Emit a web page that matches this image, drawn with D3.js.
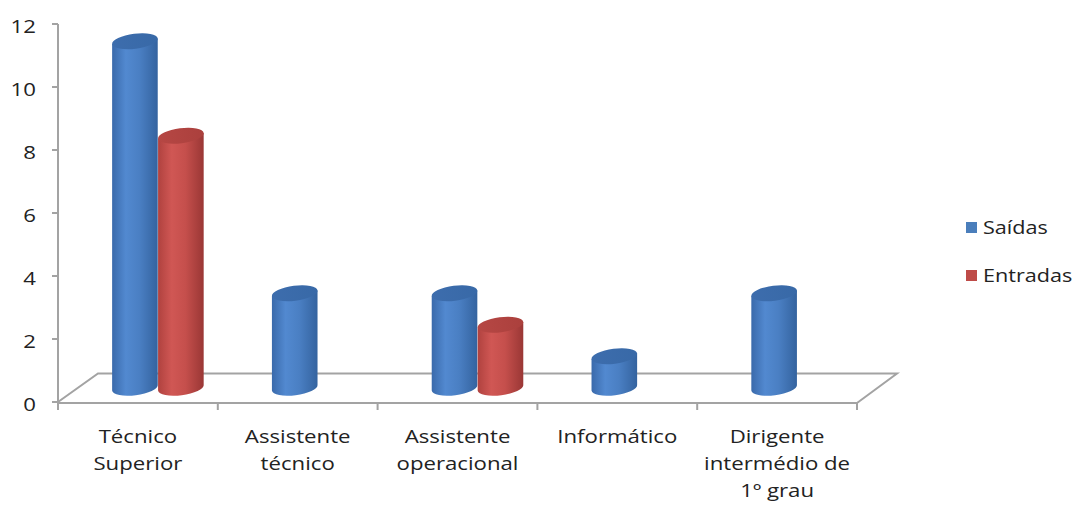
<!DOCTYPE html>
<html>
<head>
<meta charset="utf-8">
<script src="https://cdn.jsdelivr.net/npm/d3@7"></script>
<style>
  html, body { margin: 0; padding: 0; background: #fff; }
  svg { display: block; }
  text { font-family: "Open Sans", "Noto Sans", sans-serif; fill: #222; }
</style>
</head>
<body>
<svg id="chart" width="1077" height="510"></svg>
<script>
const categories = ["Técnico Superior", "Assistente técnico", "Assistente operacional", "Informático", "Dirigente intermédio de 1º grau"];
const categoryLines = [["Técnico", "Superior"], ["Assistente", "técnico"], ["Assistente", "operacional"], ["Informático"], ["Dirigente", "intermédio de", "1º grau"]];
const seriesNames = ["Saídas", "Entradas"];
const saidas = [11, 3, 3, 1, 3];
const entradas = [8, 0, 2, 0, 0];
const yTicks = [0, 2, 4, 6, 8, 10, 12];

const svg = d3.select("#chart");
const x = d3.scaleBand().domain(categories).range([58, 857]);
const y = d3.scaleLinear().domain([0, 12]).range([402, 24]);
const inner = d3.scaleBand().domain(seriesNames).range([0, x.bandwidth()]).paddingInner(0).paddingOuter(0.739);
const floorDx = 40, floorDy = -28.5;
const barDx = floorDx / 2, barDy = floorDy / 2;
const axisColor = "#a3a3a3";
const TSX = 1.2;

// gradients
const defs = svg.append("defs");
const grads = {
  "Saídas": { side: [["0%", "#3a6aab"], ["30%", "#5289d0"], ["60%", "#4a7fc3"], ["100%", "#34639f"]], top: [["0%", "#3d6dad"], ["100%", "#3869a7"]] },
  "Entradas": { side: [["0%", "#b0423f"], ["30%", "#d05754"], ["60%", "#c54f4c"], ["100%", "#9a3735"]], top: [["0%", "#b64744"], ["100%", "#ab403d"]] }
};
seriesNames.forEach((s, i) => {
  ["side", "top"].forEach(k => {
    const g = defs.append("linearGradient").attr("id", `g${i}${k}`).attr("x1", "0%").attr("x2", "100%").attr("y1", "0%").attr("y2", "0%");
    grads[s][k].forEach(([o, c]) => g.append("stop").attr("offset", o).attr("stop-color", c));
  });
});

// floor
const x0 = x.range()[0], x1 = x.range()[1], y0 = y(0);
svg.append("path")
  .attr("d", `M${x0},${y0} L${x0 + floorDx},${y0 + floorDy} L${x1 + floorDx},${y0 + floorDy} L${x1},${y0 + 1}`)
  .attr("fill", "none").attr("stroke", axisColor).attr("stroke-width", 2);

// category axis
svg.append("line").attr("x1", x0).attr("x2", x1).attr("y1", y0 + 1).attr("y2", y0 + 1)
  .attr("stroke", axisColor).attr("stroke-width", 2);
const bounds = categories.map(c => x(c)).concat([x1]);
svg.selectAll(".xtick").data(bounds).join("line")
  .attr("x1", d => d).attr("x2", d => d).attr("y1", y0 + 1).attr("y2", y0 + 8)
  .attr("stroke", axisColor).attr("stroke-width", 2);

// value axis
svg.append("line").attr("x1", x0).attr("x2", x0).attr("y1", y(12)).attr("y2", y0 + 1)
  .attr("stroke", axisColor).attr("stroke-width", 2);
svg.selectAll(".ytick").data(yTicks).join("line")
  .attr("x1", x0 - 6).attr("x2", x0).attr("y1", d => y(d)).attr("y2", d => y(d))
  .attr("stroke", axisColor).attr("stroke-width", 2);
svg.selectAll(".ylab").data(yTicks).join("text")
  .attr("transform", d => `translate(36,${y(d) + 9}) scale(${TSX},1)`)
  .attr("text-anchor", "end").attr("font-size", 18.5)
  .text(d => d);

// bars (cylinders)
const rx = inner.bandwidth() / 2, ry = 7.5, rot = -7;
const th = rot * Math.PI / 180;
const ex = rx * Math.cos(th), ey = rx * Math.sin(th);
const barData = [];
categories.forEach((c, ci) => {
  [saidas, entradas].forEach((arr, si) => {
    if (arr[ci] > 0) barData.push({ c, s: seriesNames[si], si, v: arr[ci] });
  });
});
const bars = svg.selectAll(".bar").data(barData).join("g");
bars.each(function(d) {
  const g = d3.select(this);
  const cx = x(d.c) + inner(d.s) + rx + barDx;
  const yb = y(0) + barDy;
  const yt = y(d.v) + barDy;
  const p = `M${cx - ex},${yt - ey} L${cx - ex},${yb - ey} A${rx},${ry} ${rot} 0 0 ${cx + ex},${yb + ey} L${cx + ex},${yt + ey} Z`;
  g.append("path").attr("d", p).attr("fill", `url(#g${d.si}side)`);
  g.append("ellipse").attr("cx", 0).attr("cy", 0).attr("rx", rx).attr("ry", ry)
    .attr("transform", `translate(${cx},${yt}) rotate(${rot})`)
    .attr("fill", `url(#g${d.si}top)`);
});

// category labels
categories.forEach((c, i) => {
  const cx = x(c) + x.bandwidth() / 2;
  categoryLines[i].forEach((ln, li) => {
    svg.append("text")
      .attr("transform", `translate(${cx},${443 + li * 27}) scale(${TSX},1)`)
      .attr("text-anchor", "middle").attr("font-size", 18.5)
      .text(ln);
  });
});

// legend
const legColors = { "Saídas": "#4a7ebb", "Entradas": "#be4b48" };
seriesNames.forEach((s, i) => {
  const ly = 222 + i * 48;
  svg.append("rect").attr("x", 966).attr("y", ly).attr("width", 11).attr("height", 11).attr("fill", legColors[s]);
  svg.append("text").attr("transform", `translate(983,${ly + 12}) scale(${TSX},1)`)
    .attr("font-size", 18).text(s);
});
</script>
</body>
</html>
